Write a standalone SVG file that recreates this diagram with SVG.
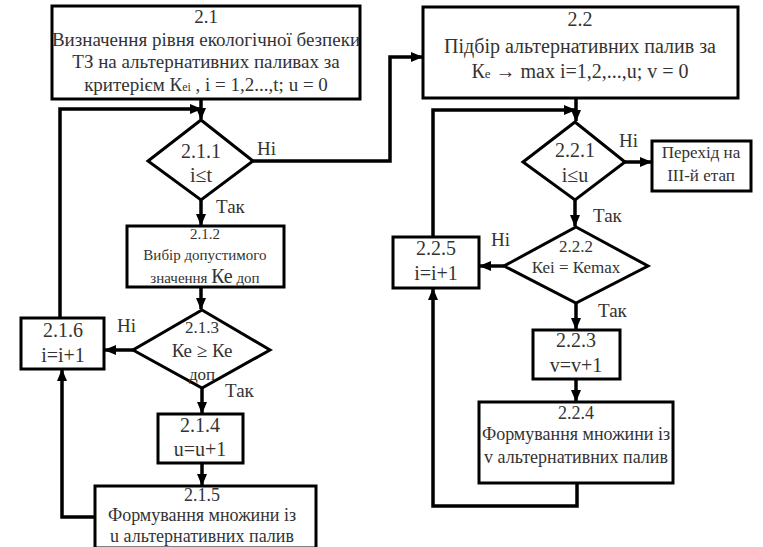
<svg xmlns="http://www.w3.org/2000/svg" width="763" height="547" viewBox="0 0 763 547">
<style>
.b{fill:#fff;stroke:#000;stroke-width:3}
.c{fill:none;stroke:#000;stroke-width:3.5}
text{fill:#333;text-anchor:middle}
.t20{font-size:20px}
.t19{font-size:19px}
.t18{font-size:18px}
.t17{font-size:17px}
.t15{font-size:15px}
.l{text-anchor:start}
</style>
<defs>
<marker id="a" markerUnits="userSpaceOnUse" markerWidth="12" markerHeight="12" viewBox="0 0 12 12" refX="11" refY="6" orient="auto">
<path d="M0,1 L12,6 L0,11 Z" fill="#000"/>
</marker>
</defs>
<rect width="763" height="547" fill="#fff"/>
<g id="connectors">
<path class="c" d="M201,99 V119" marker-end="url(#a)"/>
<path class="c" d="M60,318 V109 H201" marker-end="url(#a)"/>
<path class="c" d="M253,161 H390 V57 H422" marker-end="url(#a)"/>
<path class="c" d="M201,200 V225" marker-end="url(#a)"/>
<path class="c" d="M201,287 V309" marker-end="url(#a)"/>
<path class="c" d="M133,350 H105" marker-end="url(#a)"/>
<path class="c" d="M202,388 V413" marker-end="url(#a)"/>
<path class="c" d="M202,463 V485" marker-end="url(#a)"/>
<path class="c" d="M95,517 H62 V370" marker-end="url(#a)"/>
<path class="c" d="M576,98 V121" marker-end="url(#a)"/>
<path class="c" d="M433,237 V110 H575" marker-end="url(#a)"/>
<path class="c" d="M625,162 H651" marker-end="url(#a)"/>
<path class="c" d="M575,200 V226" marker-end="url(#a)"/>
<path class="c" d="M504,266 H480" marker-end="url(#a)"/>
<path class="c" d="M576,303 V329" marker-end="url(#a)"/>
<path class="c" d="M576,379 V401" marker-end="url(#a)"/>
<path class="c" d="M577,483 V506 H433 V289" marker-end="url(#a)"/>
</g>
<g font-family="Liberation Serif, Times New Roman, serif">
<g id="n2_1">
<rect class="b" x="52" y="6" width="308" height="93"/>
<text class="t19" x="206" y="23">2.1</text>
<text class="t19" x="206" y="46">Визначення рівня екологічної безпеки</text>
<text class="t19" x="206" y="68">ТЗ на альтернативних паливах  за</text>
<text class="t19" x="206" y="91">критерієм К<tspan font-size="12">еі</tspan> , i = 1,2...,t; u = 0</text>
</g>
<g id="n2_1_1">
<polygon class="b" points="201,120 253,161 201,200 148,161"/>
<text class="t20" x="201" y="158">2.1.1</text>
<text class="t20" x="201" y="182">i≤t</text>
<text class="t19 l" x="257" y="155">Ні</text>
<text class="t19 l" x="216" y="213">Так</text>
</g>
<g id="n2_1_2">
<rect class="b" x="127" y="226" width="157" height="61"/>
<text class="t15" x="205" y="239">2.1.2</text>
<text class="t15" x="205" y="260">Вибір допустимого</text>
<text class="t15" x="205" y="283">значення <tspan font-size="20">Ке</tspan> доп</text>
</g>
<g id="n2_1_3">
<polygon class="b" points="202,310 270,350 202,388 133,350"/>
<text class="t17" x="202" y="333">2.1.3</text>
<text class="t19" x="202" y="357">Ке ≥ Ке</text>
<text class="t17" x="202" y="380">доп</text>
<text class="t19 l" x="117" y="332">Ні</text>
<text class="t19 l" x="225" y="397">Так</text>
</g>
<g id="n2_1_4">
<rect class="b" x="158" y="414" width="85" height="49"/>
<text class="t20" x="200" y="432">2.1.4</text>
<text class="t20" x="200" y="456">u=u+1</text>
</g>
<g id="n2_1_5">
<rect class="b" x="95" y="486" width="221" height="62"/>
<text class="t18" x="202" y="501">2.1.5</text>
<text class="t18" x="202" y="521">Формування множини із</text>
<text class="t18" x="202" y="542">u альтернативних палив</text>
</g>
<g id="n2_1_6">
<rect class="b" x="21" y="318" width="83" height="51"/>
<text class="t20" x="63" y="337">2.1.6</text>
<text class="t20" x="63" y="362">i=i+1</text>
</g>
<g id="n2_2">
<rect class="b" x="423" y="7" width="315" height="91"/>
<text class="t20" x="580" y="26">2.2</text>
<text class="t20" x="580" y="53">Підбір альтернативних палив за</text>
<text class="t20" x="580" y="78">К<tspan font-size="13">е</tspan>  → max i=1,2,...,u; v = 0</text>
</g>
<g id="n2_2_1">
<polygon class="b" points="575,122 625,162 575,200 523,162"/>
<text class="t20" x="575" y="157">2.2.1</text>
<text class="t20" x="575" y="182">i≤u</text>
<text class="t19 l" x="619" y="147">Ні</text>
<text class="t19 l" x="593" y="222">Так</text>
</g>
<g id="n_exit">
<rect class="b" x="652" y="141" width="99" height="50"/>
<text class="t17" x="701" y="158">Перехід на</text>
<text class="t17" x="701" y="181">ІІІ-й етап</text>
</g>
<g id="n2_2_2">
<polygon class="b" points="576,227 648,266 576,303 504,266"/>
<text class="t17" x="576" y="252">2.2.2</text>
<text class="t17" x="576" y="273">Кеі = Кеmax</text>
<text class="t19 l" x="491" y="246">Ні</text>
<text class="t19 l" x="598" y="317">Так</text>
</g>
<g id="n2_2_3">
<rect class="b" x="533" y="330" width="87" height="49"/>
<text class="t20" x="576" y="347">2.2.3</text>
<text class="t20" x="576" y="372">v=v+1</text>
</g>
<g id="n2_2_4">
<rect class="b" x="479" y="402" width="194" height="81"/>
<text class="t18" x="576" y="419">2.2.4</text>
<text class="t18" x="576" y="440">Формування множини із</text>
<text class="t18" x="576" y="463">v альтернативних палив</text>
</g>
<g id="n2_2_5">
<rect class="b" x="393" y="237" width="86" height="51"/>
<text class="t20" x="436" y="255">2.2.5</text>
<text class="t20" x="436" y="280">i=i+1</text>
</g>
</g>
</svg>
